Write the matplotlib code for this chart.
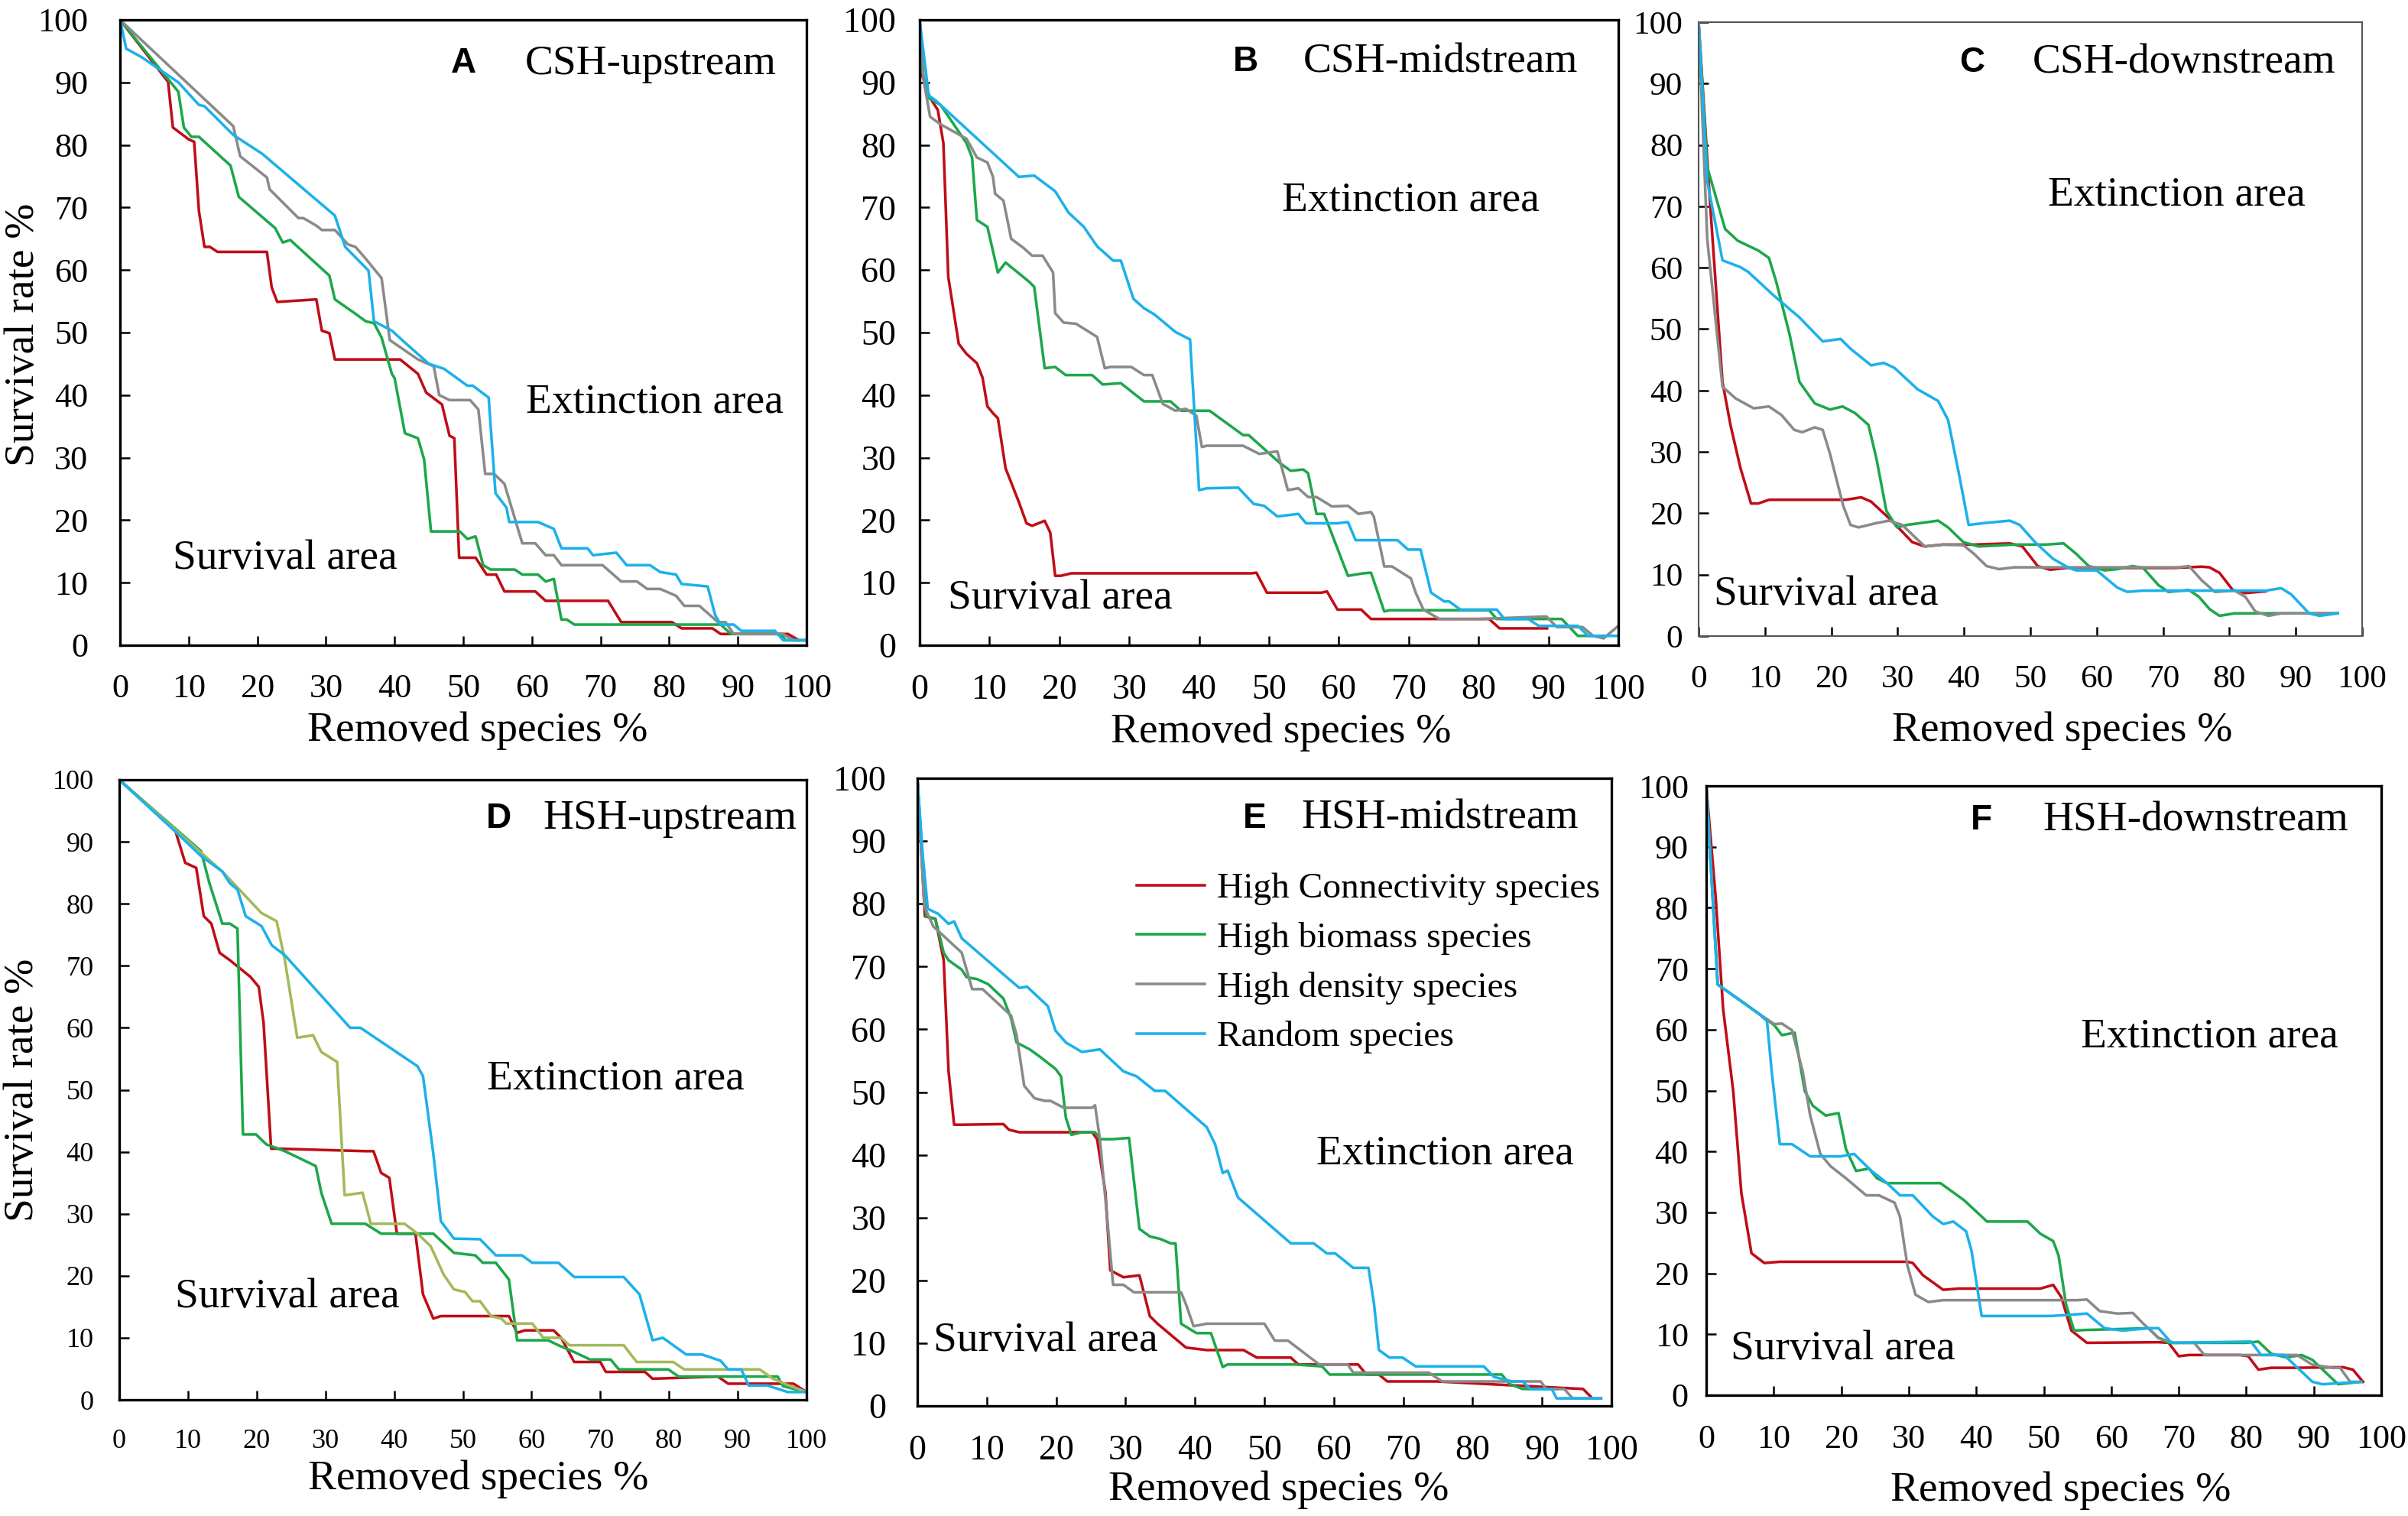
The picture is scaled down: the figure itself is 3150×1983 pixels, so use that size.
import numpy as np
import matplotlib
matplotlib.use("Agg")
import matplotlib.pyplot as plt

# ---- colours of the four removal orders
RED = "#C00D16"
GREEN = "#1DA74A"
GRAY = "#8A8A8A"
BLUE = "#1CB1EA"
OLIVE = "#A2BA5A"

labels = ["High Connectivity species", "High biomass species",
          "High density species", "Random species"]

# ---- A  CSH-upstream
a_conn_x = [0, 7, 7.7, 10, 10.8, 11.5, 12.3, 13.1, 14.2, 21.4, 22.1, 22.9, 28.6, 29.4, 30.5, 31.3, 40.8, 43.4, 44.6, 46.9, 48, 48.7, 49.4, 51.8, 53.4, 54.8, 56, 60.5, 62, 71.1, 73, 80.4, 81.8, 86.3, 87.5, 97.3, 98.9]
a_conn_y = [100, 90.1, 82.8, 80.9, 80.5, 69.4, 63.7, 63.7, 62.9, 62.9, 57.2, 54.9, 55.3, 50.3, 49.9, 45.7, 45.7, 43.4, 40.4, 38.5, 33.5, 33.1, 14, 14, 11.3, 11.3, 8.6, 8.6, 7.1, 7.1, 3.7, 3.7, 2.7, 2.7, 1.8, 1.8, 0.8]
a_biom_x = [0, 8.5, 9.3, 10.4, 11.5, 16.1, 17.3, 22.6, 23.7, 24.8, 30.5, 31.3, 34.3, 35.8, 37, 38.1, 39.6, 40, 41.5, 43.4, 44.3, 45.3, 49.5, 50.6, 51.8, 52.9, 54, 57.5, 58.6, 60.9, 62, 63.2, 64.3, 65.1, 66.2, 87.5, 89, 96.2, 97, 100]
a_biom_y = [100, 88.5, 82.8, 81.3, 81.3, 76.7, 71.7, 66.7, 64.4, 64.8, 59.1, 55.3, 53, 51.8, 51.5, 49.2, 43.4, 42.7, 33.9, 33.1, 29.7, 18.2, 18.2, 17, 17.4, 12.8, 12.1, 12.1, 11.3, 11.3, 10.2, 10.6, 4.1, 4.1, 3.3, 3.3, 1.8, 1.8, 0.8, 0.8]
a_dens_x = [0, 16.5, 17.5, 21.4, 21.8, 26, 26.7, 28.6, 29.4, 31.3, 33.2, 34.3, 35.8, 38.1, 39.3, 43.4, 45.7, 46.5, 48, 51, 52.2, 53.2, 54.5, 56, 58.6, 60.5, 62, 63.2, 64.3, 70.3, 73, 75.3, 76.8, 78.7, 81, 82.2, 84.4, 87.1, 88.2, 89.4, 96.6, 98.1, 100]
a_dens_y = [100, 83, 78.2, 74.8, 72.9, 68.3, 68.3, 67.1, 66.4, 66.4, 64.1, 63.7, 61.8, 58.7, 48.8, 45.7, 44.6, 40, 39.2, 39.2, 37.7, 27.4, 27.4, 25.8, 16.3, 16.3, 14.4, 14.4, 12.8, 12.8, 10.2, 10.2, 9, 9, 7.9, 6.3, 6.3, 3.7, 3.7, 1.8, 1.8, 0.8, 0.8]
a_rand_x = [0, 0.9, 3.2, 8.5, 11.5, 12.3, 16.5, 20.7, 31.3, 32.8, 36.2, 37, 39.6, 41.5, 45, 47.2, 50.6, 51.4, 53.7, 54.7, 56.3, 56.7, 60.9, 63.2, 64.3, 68.1, 68.9, 72.3, 73.8, 77.2, 78.7, 81, 81.8, 85.6, 86.7, 87.5, 89.4, 90.5, 95.4, 96.6, 100]
a_rand_y = [100, 95.4, 94, 90, 86.4, 86.2, 81.6, 78.6, 68.7, 63.7, 59.9, 51.8, 50.3, 48.4, 45, 44.2, 41.5, 41.5, 39.6, 24.3, 22, 19.7, 19.7, 18.6, 15.5, 15.5, 14.4, 14.8, 12.8, 12.8, 11.7, 11.3, 9.8, 9.4, 4.8, 3.3, 3.3, 2.3, 2.3, 0.8, 0.8]

# ---- B  CSH-midstream
b_conn_x = [0, 0.4, 1.5, 2.6, 3.4, 4.1, 5.6, 6.7, 8.2, 9, 9.7, 10.5, 11.2, 12.3, 14.2, 15.3, 16.1, 17.9, 18.7, 19.4, 20.2, 21.7, 47.5, 48.2, 49.7, 50.4, 57.5, 58.3, 59.8, 63.2, 64.6, 65.8, 81.5, 83, 88.6, 89.8]
b_conn_y = [100, 91, 87.5, 85.6, 80.3, 58.9, 48.2, 46.6, 45.1, 42.8, 38.2, 37.1, 36.3, 28.3, 22.9, 19.5, 19.1, 19.9, 18, 11.1, 11.1, 11.5, 11.5, 11.6, 8.4, 8.4, 8.4, 8.6, 5.7, 5.7, 4.2, 4.2, 4.2, 2.7, 2.7, 2.7]
b_biom_x = [0, 0.4, 1.3, 3, 6.7, 7.5, 8.2, 9.7, 11.2, 12.3, 15.7, 16.4, 17.9, 19.4, 20.9, 24.7, 26.2, 28.8, 32.1, 35.9, 37.4, 41.5, 46.3, 47.1, 51.6, 53.1, 54.9, 55.6, 56.8, 57.9, 61.3, 63.5, 64.6, 66.5, 67.3, 81.5, 82.6, 91.9, 94.2, 96.4]
b_biom_y = [100, 91.7, 87.5, 86.4, 80.3, 78, 68, 66.9, 59.6, 61.2, 58.1, 57.3, 44.3, 44.5, 43.2, 43.2, 41.7, 41.9, 39, 39, 37.5, 37.5, 33.6, 33.6, 29.1, 27.9, 28.1, 27.5, 21, 21, 11.1, 11.5, 11.6, 5.4, 5.6, 5.6, 4.2, 4.2, 1.5, 1.5]
b_dens_x = [0, 0.6, 1.5, 3, 6.7, 8.2, 9.7, 10.5, 10.8, 12, 13.1, 14.9, 16.1, 17.6, 19.1, 19.4, 20.6, 22.4, 25.4, 26.5, 27.3, 30.3, 32.1, 33.3, 34.8, 36.6, 38.1, 39.6, 40.4, 41.1, 46.3, 48.6, 51.2, 52.7, 54.2, 55.6, 56.8, 59, 61.3, 62.8, 64.6, 65, 66.5, 67.6, 70.3, 71, 72.1, 74.4, 80, 89.7, 91.2, 94.9, 96.4, 97.9, 100]
b_dens_y = [100, 90.2, 84.5, 83.3, 81, 78, 77.2, 74.9, 72.2, 71.1, 65, 63.5, 62.3, 62.3, 59.6, 53.1, 51.6, 51.4, 49.3, 44.3, 44.5, 44.5, 43.2, 43.2, 38.6, 37.5, 37.8, 36.7, 31.7, 31.9, 31.9, 30.6, 31, 24.8, 25.1, 23.7, 23.7, 22.2, 22.3, 21, 21.3, 20.6, 12.6, 12.6, 10.7, 8.4, 5.7, 4.2, 4.2, 4.6, 2.9, 2.9, 1.5, 1.1, 3.1]
b_rand_x = [0, 1.3, 2.2, 14.2, 16.4, 19.4, 21.3, 23.5, 25.4, 27.7, 28.8, 30.6, 32.1, 33.6, 36.6, 38.7, 40, 41.1, 45.6, 47.8, 49.3, 51.2, 54.2, 55.3, 59.8, 61.3, 62.4, 68.4, 69.9, 71.7, 73.2, 75.1, 75.8, 77.4, 82.6, 83.7, 87.1, 88.6, 94.2, 95.7, 100]
b_rand_y = [100, 87.9, 87.2, 74.9, 75.1, 72.6, 69.2, 66.9, 63.8, 61.5, 61.5, 55.4, 53.9, 52.9, 50.1, 48.9, 24.8, 25.1, 25.2, 22.6, 22.3, 20.6, 21, 19.5, 19.5, 19.7, 16.8, 16.8, 15.3, 15.3, 8.4, 7, 7, 5.7, 5.7, 4.2, 4.2, 3.1, 3.1, 1.5, 1.5]

# ---- C  CSH-downstream
c_conn_x = [0, 1.7, 3.6, 4.8, 6.3, 7.9, 9, 10.6, 22.2, 24.5, 26, 29.1, 32.2, 34.1, 36.8, 41.5, 46.9, 48.8, 51.1, 53, 55.4, 71.6, 75.8, 77, 78.5, 80.5, 82.4, 85.5]
c_conn_y = [100, 71, 41.4, 34.4, 27.4, 21.6, 21.6, 22.2, 22.2, 22.6, 21.9, 18.8, 15.3, 14.6, 14.9, 14.9, 15.1, 14.6, 11.4, 10.8, 11.1, 11.1, 11.3, 11.2, 10.3, 7.5, 7, 7.3]
c_biom_x = [0, 1.3, 4, 5.9, 9, 10.6, 11.7, 13.7, 15.2, 17.5, 19.8, 21.7, 23.6, 25.6, 26.8, 28.3, 29.9, 31.4, 33.4, 36.1, 37.6, 39.9, 42.2, 47.6, 52.3, 55, 56.9, 58.8, 61.2, 63.1, 65.4, 67, 69.3, 70.8, 73.9, 75.4, 77, 78.5, 80.8, 86.3, 96.3]
c_biom_y = [100, 76.4, 66.3, 64.4, 62.8, 61.6, 57.7, 49.2, 41.4, 37.9, 36.9, 37.4, 36.3, 34.4, 28.9, 20.4, 17.7, 18.1, 18.4, 18.8, 17.7, 15.3, 14.6, 14.9, 14.9, 15.1, 13.4, 11.4, 10.7, 10.9, 11.4, 11.1, 8.3, 7.2, 7.5, 6.4, 4.4, 3.3, 3.7, 3.7, 3.7]
c_dens_x = [0, 1.3, 3.6, 5.6, 8.3, 10.6, 12.5, 14.4, 15.6, 17.5, 18.7, 19.8, 21.8, 22.9, 24.1, 26.8, 28.7, 30.7, 33, 34.1, 36.8, 39.9, 41.5, 43.4, 45.3, 47.6, 72.4, 73.9, 75.8, 77.8, 80.8, 82.4, 83.9, 85.9, 87.8, 96.3]
c_dens_y = [100, 64.7, 40.6, 38.7, 37.1, 37.4, 36, 33.6, 33.2, 34, 33.6, 29.7, 21.2, 18.1, 17.7, 18.4, 18.8, 18.1, 15.7, 14.6, 14.9, 14.8, 13.4, 11.4, 10.9, 11.2, 11.2, 11.4, 9.1, 7.2, 7.4, 6.4, 4, 3.3, 3.7, 3.7]
c_rand_x = [0, 1.3, 3.6, 6.3, 7.5, 11.4, 15.2, 18.7, 21.4, 22.9, 26, 27.9, 29.5, 33, 36.1, 37.6, 39.2, 40.7, 43, 46.9, 48.4, 50.7, 53.4, 55.8, 56.9, 60, 63.1, 64.6, 67, 77, 85.5, 87.8, 89.3, 92, 93.6, 96.3]
c_rand_y = [100, 74.1, 61.2, 60.1, 59.3, 55.4, 51.9, 48, 48.4, 46.8, 44.1, 44.5, 43.7, 40.2, 38.3, 35.2, 26.6, 18.1, 18.4, 18.8, 18.1, 15.3, 12.6, 11.1, 10.7, 10.7, 7.9, 7.2, 7.4, 7.4, 7.4, 7.8, 6.8, 3.7, 3.3, 3.7]

# ---- D  HSH-upstream
d_conn_x = [0, 8.1, 9.6, 11.2, 12.3, 13.4, 14.6, 16.1, 19.1, 20.3, 21, 22.1, 23.3, 35.8, 37, 38.1, 39.3, 40.4, 41.5, 43.1, 44.2, 45.7, 46.8, 56, 56.7, 57.9, 59, 63.2, 64.3, 66.2, 70, 70.8, 76.5, 77.6, 87.1, 88.6, 94.7, 98.1, 100]
d_conn_y = [100, 92, 86.6, 85.8, 78, 76.8, 72.1, 70.9, 68.2, 66.6, 60.8, 40.5, 40.5, 40.1, 40.1, 36.6, 35.8, 26.8, 26.8, 26.8, 17, 13.1, 13.5, 13.5, 13.5, 10.8, 11.2, 11.2, 10, 6.1, 6.1, 4.5, 4.5, 3.4, 3.75, 2.6, 2.6, 2.6, 1.25]
d_biom_x = [0, 11.9, 13.1, 15, 16.1, 17.2, 18, 19.9, 21.4, 24.1, 28.6, 29.4, 30.9, 35.8, 38.1, 45.7, 48.7, 51.8, 52.9, 54.8, 56.7, 57.9, 62.4, 63.9, 66.2, 68.5, 71.5, 72.7, 79.9, 81.4, 95.8, 96.6, 100]
d_biom_y = [100, 88.5, 83.4, 76.8, 76.8, 76, 42.8, 42.8, 41.2, 40.1, 37.7, 33.4, 28.4, 28.4, 26.8, 26.8, 23.7, 23.3, 22.1, 22.1, 19.4, 9.6, 9.6, 8.8, 7.7, 6.5, 6.5, 4.9, 4.9, 3.75, 3.75, 2.2, 1.25]
d_dens_x = [0, 15, 20.7, 22.9, 24.1, 25.9, 28.2, 29.4, 31.7, 32.8, 35.4, 36.6, 41.5, 43.4, 45.3, 47.2, 48.7, 50.3, 51.4, 52.5, 54.1, 55.6, 56.3, 60.1, 61.7, 64.3, 65.5, 73.4, 75.3, 80.6, 82.2, 93.2, 95.1, 97.7, 100]
d_dens_y = [100, 85.2, 78.5, 77.2, 70.9, 58.4, 58.8, 56.1, 54.5, 33, 33.4, 28.4, 28.4, 26.8, 24.8, 20.2, 17.8, 17.4, 15.9, 15.9, 13.5, 13.1, 12.3, 12.3, 10, 10, 8.8, 8.8, 6.1, 6.1, 4.9, 4.9, 3.4, 2.2, 1.25]
d_rand_x = [0, 8.5, 11.9, 15, 16.1, 17.2, 18.4, 20.7, 22.2, 24.1, 33.6, 35.1, 43.4, 44.2, 45.7, 46.8, 48.7, 52.5, 54.8, 58.6, 60.1, 63.9, 66.2, 73.4, 75.7, 77.6, 79.1, 82.5, 84.8, 87.5, 88.6, 90.5, 91.6, 94.3, 97.3, 100]
d_rand_y = [100, 91.3, 87.7, 85.2, 83.3, 82.3, 78, 76.4, 73.3, 71.7, 60, 60, 53.8, 52.2, 39.7, 28.8, 26, 25.9, 23.3, 23.3, 22.1, 22.1, 19.8, 19.8, 17, 9.6, 10, 7.3, 7.3, 6.3, 4.9, 4.9, 2.3, 2.3, 1.25, 1.25]

# ---- E  HSH-midstream
e_conn_x = [0, 1.1, 2.6, 3.8, 4.5, 5.3, 6.4, 12.4, 13.2, 14.7, 25.2, 25.9, 27.1, 27.8, 29.7, 32, 33.5, 34.6, 38.7, 41.7, 47, 48.9, 53.8, 54.9, 63.5, 64.7, 66.5, 67.7, 74.8, 95.9, 97]
e_conn_y = [100, 78, 77.6, 71, 53.3, 44.8, 44.8, 44.9, 44, 43.6, 43.6, 42.5, 34, 21.6, 20.5, 20.8, 14.3, 13.1, 9.3, 8.9, 8.9, 7.7, 7.7, 6.6, 6.6, 5, 5, 3.9, 3.9, 2.7, 1.5]
e_biom_x = [0, 0.75, 1.3, 2.6, 3.8, 4.5, 6.4, 7.1, 8.6, 10.2, 12.4, 13.5, 14.3, 16.2, 17.7, 19.9, 20.7, 21.4, 22.2, 23.7, 25.6, 26.3, 28.2, 30.5, 32, 33.5, 35, 36.5, 37.2, 38, 40.2, 42.3, 44, 44.7, 54.5, 58.3, 59.4, 84.2, 85.3, 87.2, 92.1]
e_biom_y = [100, 87.3, 78, 77.6, 72.2, 71, 69.5, 68.3, 68, 67.2, 64.9, 61.8, 57.9, 56.8, 55.6, 53.7, 52.5, 45.9, 43.2, 43.6, 43.6, 42.5, 42.5, 42.7, 28.2, 27, 26.6, 25.9, 25.9, 13.1, 11.6, 11.6, 6.2, 6.6, 6.6, 6.3, 5, 5, 3.5, 2.7, 2.7]
e_dens_x = [0, 1, 2.3, 6.4, 7.9, 9.4, 13.5, 14.3, 15.4, 16.9, 18.4, 19.2, 21.1, 25.2, 25.6, 26.3, 27.4, 28.2, 29.7, 31.2, 38, 38.7, 39.8, 41.7, 50, 51.5, 53.4, 57.9, 62, 62.8, 73.7, 75.6, 89.8, 90.6, 93.2, 94.4, 98.5]
e_dens_y = [100, 79.6, 76.4, 72.2, 66.4, 66.4, 62.2, 59.1, 51, 49, 48.6, 48.6, 47.5, 47.5, 47.9, 42.5, 29.3, 19.3, 19.3, 18.1, 18.1, 16.2, 12.7, 13.1, 13.1, 10.4, 10.4, 6.6, 6.6, 5.3, 5.3, 3.9, 3.9, 2.7, 2.7, 1.2, 1.2]
e_rand_x = [0, 0.75, 1.5, 3, 4.5, 5.3, 6.4, 13.2, 14.7, 15.8, 18.8, 19.9, 21.4, 23.7, 26.3, 29.7, 31.6, 34.2, 35.7, 41.7, 42.9, 44, 44.7, 46.2, 53.8, 57.1, 59, 60.2, 62.8, 65, 65.8, 66.5, 68, 69.9, 71.8, 81.6, 83.1, 85.7, 87.2, 88.3, 91.4, 92.1, 98.5]
e_rand_y = [100, 88, 79.2, 78.4, 76.8, 77.2, 74.5, 68, 66.6, 66.8, 63.7, 59.8, 57.9, 56.4, 56.8, 53.3, 52.5, 50.2, 50.2, 44.4, 41.7, 37.1, 37.5, 33.2, 25.9, 25.9, 24.3, 24.3, 22, 22, 16.2, 8.9, 7.7, 7.7, 6.3, 6.3, 4.6, 3.9, 3.9, 2.7, 2.7, 1.2, 1.2]

# ---- F  HSH-downstream
f_conn_x = [0, 1.4, 2.5, 4, 5.2, 6.7, 8.6, 10.9, 29.8, 30.6, 32.1, 35.1, 37.4, 49.5, 51.4, 52.6, 54.1, 56.4, 67, 68.5, 70, 71.5, 79.1, 80.3, 81.8, 83.7, 87.5, 94.3, 95.8, 97.3]
f_conn_y = [100, 81.7, 63.4, 49.9, 33.2, 23.3, 21.7, 21.9, 21.9, 21.7, 19.7, 17.3, 17.5, 17.5, 18.1, 16.1, 10.6, 8.6, 8.7, 8.6, 6.4, 6.6, 6.6, 6.4, 4.2, 4.5, 4.5, 4.6, 4.2, 2.2]
f_biom_x = [0, 1.7, 4.8, 7.8, 10.1, 11.2, 13.1, 14.6, 15.8, 17.7, 19.6, 20.7, 22.2, 24.1, 25.3, 26.8, 34.7, 38.2, 41.6, 47.6, 49.5, 51.4, 52.2, 53.3, 54.5, 56, 59.4, 65.5, 67, 68.5, 79.9, 81.8, 83.7, 86, 88.2, 89.8, 91.7, 93.6, 97]
f_biom_y = [100, 67.4, 65, 62.6, 60.7, 59.1, 59.5, 49.9, 47.5, 45.9, 46.3, 40.4, 36.8, 37.2, 35.6, 34.8, 34.8, 32, 28.5, 28.5, 26.5, 25.3, 22.9, 14.9, 10.6, 10.7, 10.8, 11, 9.4, 8.6, 8.6, 8.8, 6.8, 6.2, 6.6, 5.8, 3.8, 1.8, 2.2]
f_dens_x = [0, 1.7, 7.8, 10.1, 11.2, 12.7, 14.3, 15.4, 16.9, 18.4, 20.7, 23.7, 25.6, 27.9, 28.7, 29.8, 31, 32.9, 35.1, 54.9, 56.4, 58.3, 60.9, 63.2, 64.7, 67, 69.3, 72.3, 73.8, 87.5, 89.8, 92.8, 93.9, 95.4, 97]
f_dens_y = [100, 67.4, 62.6, 60.9, 61, 59.9, 53.1, 45.9, 39.6, 37.6, 35.6, 32.8, 32.8, 31.6, 29.3, 21.3, 16.5, 15.3, 15.6, 15.6, 15.7, 13.8, 13.4, 13.5, 11.8, 9.4, 8.6, 8.6, 6.6, 6.6, 5, 4.5, 4.5, 2.2, 2.2]
f_rand_x = [0, 1.7, 7.8, 9, 9.7, 10.9, 12.7, 15.4, 19.9, 21.9, 24.5, 26.8, 28.7, 30.6, 33.6, 35.1, 36.6, 38.5, 39.3, 40.8, 42.3, 51.1, 56.4, 59, 61.7, 65.5, 67, 68.9, 80.7, 82.2, 85.6, 87.5, 89.8, 91.3, 97]
f_rand_y = [100, 67.4, 62.6, 61.4, 53.1, 41.2, 41.2, 39.2, 39.2, 39.6, 36.8, 34.8, 32.8, 32.8, 29.3, 28.1, 28.5, 26.9, 23.7, 13, 13, 13, 13.4, 11, 10.6, 11, 11, 8.6, 8.8, 6.6, 6.6, 4.6, 2.2, 1.8, 2.2]

panels = [
    dict(letter="A", name="CSH-upstream", rect=(157, 26, 1055, 844),
         series=[(a_conn_x, a_conn_y, RED), (a_biom_x, a_biom_y, GREEN),
                 (a_dens_x, a_dens_y, GRAY), (a_rand_x, a_rand_y, BLUE)],
         letter_x=50.1, name_x=59.0, title_y=93.0,
         ext=(59.1, 38.8), surv=(7.7, 13.8), tick=10.6, ypad=10,
         xlab=(0.521, -0.137), ylab=(-0.141, 0.496)),
    dict(letter="B", name="CSH-midstream", rect=(1203, 26, 2117, 844),
         series=[(b_conn_x, b_conn_y, RED), (b_biom_x, b_biom_y, GREEN),
                 (b_dens_x, b_dens_y, GRAY), (b_rand_x, b_rand_y, BLUE)],
         letter_x=46.7, name_x=54.9, title_y=93.3,
         ext=(51.9, 71.1), surv=(4.1, 7.5), tick=11, ypad=7.4,
         xlab=(0.517, -0.139), ylab=None),
    dict(letter="C", name="CSH-downstream", rect=(2222, 29, 3090, 832),
         series=[(c_conn_x, c_conn_y, RED), (c_biom_x, c_biom_y, GREEN),
                 (c_dens_x, c_dens_y, GRAY), (c_rand_x, c_rand_y, BLUE)],
         letter_x=41.2, name_x=50.3, title_y=93.4,
         ext=(52.7, 71.8), surv=(2.3, 6.8), tick=10.4, ypad=5,
         xlab=(0.548, -0.154), ylab=None),
    dict(letter="D", name="HSH-upstream", rect=(156, 1020, 1055, 1831),
         series=[(d_conn_x, d_conn_y, RED), (d_biom_x, d_biom_y, GREEN),
                 (d_dens_x, d_dens_y, OLIVE), (d_rand_x, d_rand_y, BLUE)],
         letter_x=55.2, name_x=61.7, title_y=93.75,
         ext=(53.5, 51.8), surv=(8.1, 16.6), tick=8.7, ypad=8,
         xlab=(0.522, -0.128), ylab=(-0.14, 0.499)),
    dict(letter="E", name="HSH-midstream", rect=(1200, 1018, 2108, 1839),
         series=[(e_conn_x, e_conn_y, RED), (e_biom_x, e_biom_y, GREEN),
                 (e_dens_x, e_dens_y, GRAY), (e_rand_x, e_rand_y, BLUE)],
         letter_x=48.6, name_x=55.3, title_y=93.6,
         ext=(57.5, 40.2), surv=(2.3, 10.4), tick=11, ypad=9.8,
         xlab=(0.521, -0.134), ylab=None),
    dict(letter="F", name="HSH-downstream", rect=(2232, 1028, 3115, 1825),
         series=[(f_conn_x, f_conn_y, RED), (f_biom_x, f_biom_y, GREEN),
                 (f_dens_x, f_dens_y, GRAY), (f_rand_x, f_rand_y, BLUE)],
         letter_x=40.7, name_x=49.9, title_y=94.4,
         ext=(55.5, 58.8), surv=(3.6, 7.6), tick=10.6, ypad=5.6,
         xlab=(0.525, -0.156), ylab=None),
]

W, H = 3150, 1983
SERIF = ["Liberation Serif", "DejaVu Serif"]
plt.rcParams["font.family"] = SERIF
fig = plt.figure(figsize=(W / 300, H / 300), dpi=300)

BIG = 13.3

for p in panels:
    x0, y0, x1, y1 = p["rect"]
    ax = fig.add_axes([x0 / W, 1 - y1 / H, (x1 - x0) / W, (y1 - y0) / H])
    for i, (xs, ys, col) in enumerate(p["series"]):
        ax.plot(xs, ys, color=col, lw=0.85, label=labels[i], solid_joinstyle="round")
    ax.set_xlim(0, 100)
    ax.set_ylim(0, 100)
    ticks = np.arange(0, 101, 10)
    ax.set_xticks(ticks)
    ax.set_yticks(ticks)
    ax.set_xticklabels([str(t) for t in ticks], family=SERIF)
    ax.set_yticklabels([str(t) for t in ticks], family=SERIF)
    ax.tick_params(direction="in", length=3, width=0.6, labelsize=p["tick"])
    ax.tick_params(axis="x", pad=9)
    ax.tick_params(axis="y", pad=p["ypad"])
    spine_col = "#555555" if p["letter"] == "C" else "black"
    spine_w = 0.5 if p["letter"] == "C" else 0.8
    for s in ax.spines.values():
        s.set_color(spine_col)
        s.set_linewidth(spine_w)

    ax.text(p["letter_x"], p["title_y"], p["letter"], family="Liberation Sans",
            weight="bold", fontsize=11, ha="center", va="center")
    ax.text(p["name_x"], p["title_y"], p["name"], fontsize=BIG, ha="left", va="center")
    ax.text(p["ext"][0], p["ext"][1], "Extinction area", fontsize=BIG, ha="left", va="center")
    ax.text(p["surv"][0], p["surv"][1], "Survival area", fontsize=BIG, ha="left", va="center")

    ax.set_xlabel("Removed species %", fontsize=BIG)
    ax.xaxis.set_label_coords(*p["xlab"])
    ax.xaxis.label.set_va("center")
    if p["ylab"] is not None:
        ax.set_ylabel("Survival rate %", fontsize=BIG)
        ax.yaxis.set_label_coords(*p["ylab"])
        ax.yaxis.label.set_va("center")

    if p["letter"] == "E":
        ax.legend(loc="upper left", bbox_to_anchor=(0.316, 0.85), frameon=False,
                  fontsize=11.4, handlelength=1.87, handletextpad=0.34,
                  labelspacing=0.45, borderpad=0, borderaxespad=0)

fig.savefig("out.png", dpi=300)
